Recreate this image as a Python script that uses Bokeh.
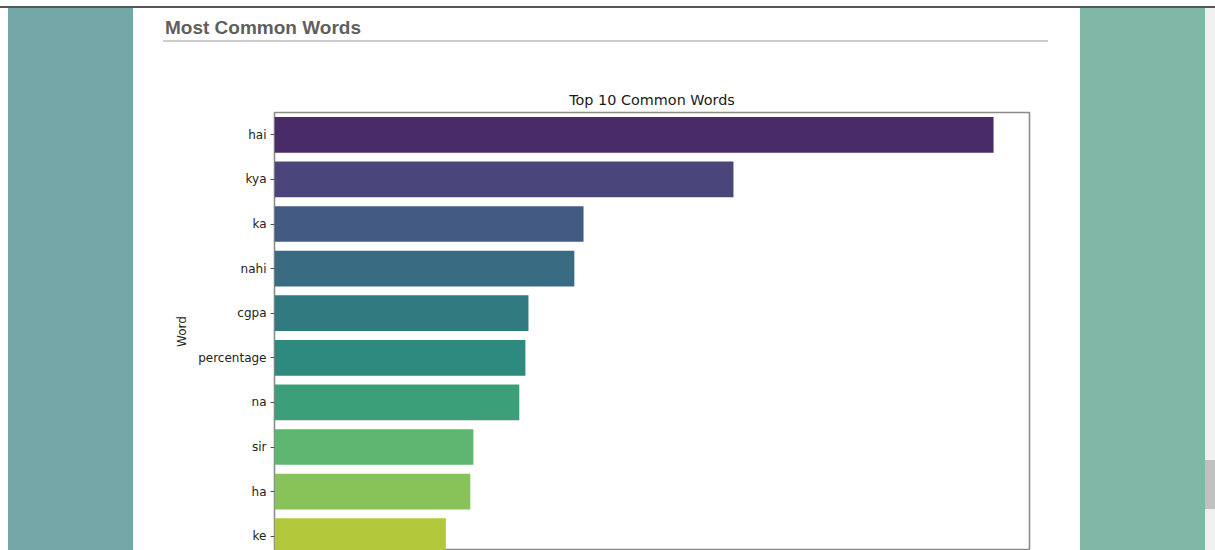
import colorsys
import numpy as np
from bokeh.plotting import figure
from bokeh.models import Range1d, FixedTicker, Div, ColumnDataSource
from bokeh.layouts import row, column
from bokeh.palettes import Viridis256
from bokeh.embed import file_html
from bokeh.resources import INLINE

# ---- data ----
words = ["hai", "kya", "ka", "nahi", "cgpa", "percentage", "na", "sir", "ha", "ke"]
counts = [235, 150, 101, 98, 83, 82, 80, 65, 64, 56]
page_heading = "Most Common Words"
chart_title = "Top 10 Common Words"
y_label = "Word"


def desaturate(hex_color, prop=0.75):
    r, g, b = (int(hex_color[i:i + 2], 16) / 255 for i in (1, 3, 5))
    h, l, s = colorsys.rgb_to_hls(r, g, b)
    r, g, b = colorsys.hls_to_rgb(h, l, s * prop)
    return "#%02x%02x%02x" % tuple(int(round(c * 255)) for c in (r, g, b))


n = len(words)
colors = [desaturate(Viridis256[min(int(t * 256), 255)]) for t in np.linspace(0, 1, n + 2)[1:-1]]
idx = list(range(n))

TXT = "#222222"

# ---- layout geometry ----
PANEL_W = 947
HEAD_H = 34
PLOT_H = 508
B_LEFT, B_RIGHT, B_TOP = 141, 51, 70
FRAME_H = PLOT_H - B_TOP
FULL_AXES_H = 446            # matplotlib axes height (partly scrolled out of view)
x_end = max(counts) * 1.05
y_start = -0.5 + n * FRAME_H / FULL_AXES_H

# ---- page heading with rule ----
heading = Div(
    text=('<div style="box-sizing:border-box; margin:0 0 0 30px; width:885px; height:33.5px; '
          'padding:10px 0 0 2px; border-bottom:2px solid #cdcdcd; '
          'font-family:\'Liberation Sans\', Arial, sans-serif; font-weight:bold; '
          'font-size:19px; line-height:19px; color:#5f5f5f; white-space:nowrap;">%s</div>'
          % page_heading),
    width=PANEL_W, height=HEAD_H, margin=0, styles={"background-color": "#ffffff"})

# ---- chart ----
src = ColumnDataSource(dict(y=idx, right=counts, word=words, color=colors))
p = figure(width=PANEL_W, height=PLOT_H, output_backend="svg", toolbar_location=None,
           x_range=Range1d(start=0, end=x_end),
           y_range=Range1d(start=y_start, end=-0.5),
           x_axis_location=None,
           min_border_left=B_LEFT, min_border_right=B_RIGHT, min_border_top=B_TOP,
           min_border_bottom=0,
           title=chart_title, background_fill_color="white", border_fill_color="white")
p.hbar(y="y", right="right", left=0, height=0.8, fill_color="color", line_color=None, source=src)

p.title.align = "center"
p.title.text_font = "DejaVu Sans"
p.title.text_font_size = "14.4px"
p.title.text_font_style = "normal"
p.title.text_color = "#1a1a1a"
p.title.standoff = 10

p.grid.visible = False
p.outline_line_color = "#8c8c8c"
p.outline_line_width = 1.6

ax = p.yaxis[0]
ax.ticker = FixedTicker(ticks=idx)
ax.major_label_overrides = {i: w for i, w in enumerate(words)}
ax.major_label_text_font = "DejaVu Sans"
ax.major_label_text_font_size = "12px"
ax.major_label_text_color = TXT
ax.major_label_standoff = 4
ax.major_tick_in = 0
ax.major_tick_out = 4
ax.major_tick_line_color = "#555555"
ax.minor_tick_line_color = None
ax.axis_line_color = None
ax.axis_label = y_label
ax.axis_label_text_font = "DejaVu Sans"
ax.axis_label_text_font_size = "12px"
ax.axis_label_text_font_style = "normal"
ax.axis_label_text_color = TXT
ax.axis_label_standoff = 6

# ---- page frame around the panel ----
SIDE_H = HEAD_H + PLOT_H
top_strip = Div(text="", width=1215, height=8, margin=0,
                styles={"background": "linear-gradient(to bottom, #ffffff 0px, #ffffff 6px, "
                                      "#4f5a5a 6px, #4f5a5a 8px)"})
left_gap = Div(text="", width=8, height=SIDE_H, margin=0, styles={"background-color": "#ffffff"})
left = Div(text="", width=125, height=SIDE_H, margin=0,
           styles={"background-color": "#76a7a8"})
right = Div(text="", width=125, height=SIDE_H, margin=0,
            styles={"background-color": "#80b7a6"})
scroll = Div(text="", width=10, height=SIDE_H, margin=0,
             styles={"background": "linear-gradient(to bottom, #f0f0f0 0px, #f0f0f0 452px, "
                                   "#c1c1c1 452px, #c1c1c1 501px, #f0f0f0 501px)"})

middle = column(heading, p, spacing=0)
layout = column(top_strip, row(left_gap, left, middle, right, scroll, spacing=0), spacing=0)

open("out.html", "w").write(file_html(layout, INLINE))
